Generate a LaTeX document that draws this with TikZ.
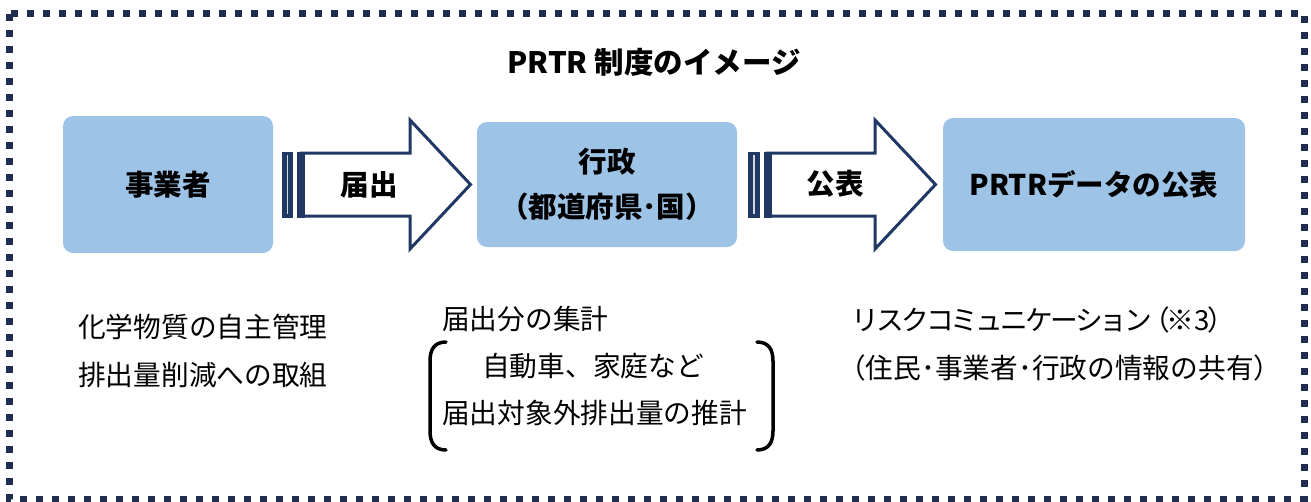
\documentclass[tikz,border=0pt]{standalone}
\usepackage{fontspec}
\setmainfont{Noto Sans CJK JP}
\newfontfamily\jptight{Noto Sans CJK JP}[LetterSpace=-10]
\definecolor{dotnavy}{HTML}{1F2D50}
\definecolor{arrnavy}{HTML}{203864}
\definecolor{boxblue}{HTML}{9DC3E6}
\tikzset{
  box/.style={fill=boxblue, rounded corners=10pt, inner sep=0pt, align=center,
              font=\fontsize{28.5}{45}\selectfont\bfseries},
  bigarrow/.style={draw=arrnavy, fill=white, line width=3pt, line join=miter},
  stripe/.style={fill=arrnavy},
  arrlabel/.style={inner sep=0pt, font=\fontsize{28.5}{34}\selectfont\bfseries},
  lowtext/.style={anchor=west, inner sep=0pt, font=\fontsize{27.7}{32}\selectfont},
  bracketline/.style={draw=black, line width=3.5pt, line cap=round},
}
\begin{document}
\begin{tikzpicture}[x=1pt,y=-1pt]
\useasboundingbox (0,0) rectangle (1311,501);
% dotted frame
\draw[dotnavy, line width=7pt, dash pattern=on 7pt off 9pt] (9.5,13.5) rectangle (1304,499);
% title
\node[inner sep=0pt, font=\fontsize{29.5}{34}\selectfont\bfseries] (title) at (654,62) {PRTR 制度のイメージ};
% boxes
\node[box, minimum width=210pt, minimum height=137pt] (biz) at (168,184.5) {事業者};
\node[box, minimum width=260pt, minimum height=125pt] (gov) at (607,184.5) {行政\\（都道府県･国）};
\node[box, minimum width=302pt, minimum height=133pt] (pub) at (1094,184.5) {PRTRデータの公表};
% arrow 1
\path[bigarrow] (301,153) -- (410,153) -- (410,120) -- (470.5,184.5) -- (410,249) -- (410,216) -- (301,216) -- cycle;
\fill[stripe] (297,151.5) rectangle (305,217.5);
\fill[stripe] (282,151.5) rectangle (293,217.5);
\fill[white!80!arrnavy] (286.8,155) rectangle (288,214);
\node[arrlabel] (a1) at (369,185) {届出};
% arrow 2
\path[bigarrow] (767,153) -- (875,153) -- (875,120) -- (935.5,184.5) -- (875,249) -- (875,216) -- (767,216) -- cycle;
\fill[stripe] (764,151.5) rectangle (772,217.5);
\fill[stripe] (748,151.5) rectangle (760,217.5);
\fill[white!80!arrnavy] (753.4,155) rectangle (754.6,214);
\node[arrlabel] (a2) at (835,184) {公表};
% lower texts left
\node[lowtext] (l1) at (78,327) {化学物質の自主管理};
\node[lowtext] (l2) at (78,375) {排出量削減への取組};
% middle
\node[lowtext] (m1) at (442,319) {届出分の集計};
\node[lowtext] (m2) at (482,366) {自動車、家庭など};
\node[lowtext] (m3) at (442,413) {届出対象外排出量の推計};
\draw[bracketline] (446,342) .. controls (434,342) and (430,350) .. (430,361) -- (430,431) .. controls (430,442) and (434,450) .. (446,450);
\draw[bracketline] (757,342) .. controls (769,342) and (773,350) .. (773,361) -- (773,431) .. controls (773,442) and (769,450) .. (757,450);
% right
\node[lowtext] (r1) at (851,320) {{\jptight リスクコミュニケーション}\kern-10pt（\kern-4pt※3\kern-2pt）};
\node[lowtext] (r2) at (838,368) {（住民･事業者･行政の情報の共有）};
\end{tikzpicture}
\end{document}
